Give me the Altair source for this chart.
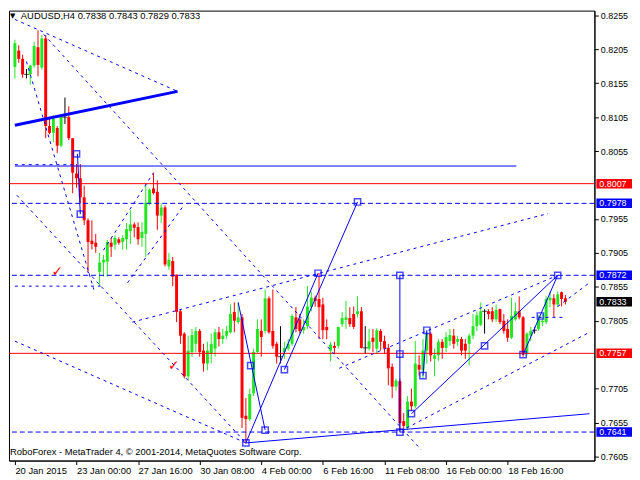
import altair as alt
import pandas as pd

# ---------------- candle data (AUDUSD H4) ----------------
opens = [0.8179,0.8203,0.8191,0.8168,0.8168,0.8181,0.8208,0.8178,0.8221,0.8092,
         0.8082,0.8089,0.8063,0.8105,0.8105,0.8074,0.8022,0.8015,0.7987,0.7953,
         0.7923,0.7920,0.7877,0.7891,0.7892,0.7920,0.7917,0.7925,0.7921,0.7925,
         0.7937,0.7947,0.7943,0.7927,0.7933,0.7978,0.8000,0.7995,0.7960,0.7972,
         0.7885,0.7893,0.7873,0.7819,0.7786,0.7723,0.7759,0.7771,0.7790,0.7761,
         0.7742,0.7756,0.7764,0.7788,0.7778,0.7783,0.7788,0.7818,0.7803,0.7810,
         0.7665,0.7660,0.7698,0.7759,0.7790,0.7790,0.7838,0.7790,0.7771,0.7752,
         0.7759,0.7764,0.7771,0.7810,0.7807,0.7791,0.7797,0.7825,0.7839,0.7837,
         0.7829,0.7796,0.7761,0.7768,0.7768,0.7800,0.7806,0.7809,0.7815,0.7815,
         0.7819,0.7765,0.7764,0.7780,0.7764,0.7790,0.7775,0.7765,0.7737,0.7708,
         0.7716,0.7657,0.7647,0.7686,0.7679,0.7740,0.7732,0.7761,0.7786,0.7749,
         0.7754,0.7774,0.7765,0.7775,0.7783,0.7774,0.7778,0.7771,0.7771,0.7783,
         0.7797,0.7799,0.7819,0.7819,0.7819,0.7807,0.7822,0.7805,0.7793,0.7780,
         0.7807,0.7819,0.7810,0.7756,0.7783,0.7791,0.7793,0.7803,0.7803,0.7835,
         0.7838,0.7829,0.7847,0.7838]
highs = [0.8219,0.8211,0.8197,0.8176,0.8182,0.8216,0.8233,0.8226,0.8226,0.8103,
         0.8108,0.8092,0.8109,0.8134,0.8121,0.8074,0.8036,0.8036,0.8004,0.7956,
         0.7953,0.7933,0.7905,0.7902,0.7924,0.7927,0.7931,0.7928,0.7931,0.7949,
         0.7968,0.7950,0.7950,0.7950,0.8007,0.8000,0.8023,0.8012,0.7978,0.7975,
         0.7905,0.7899,0.7873,0.7822,0.7788,0.7783,0.7793,0.7796,0.7793,0.7771,
         0.7774,0.7786,0.7793,0.7796,0.7793,0.7797,0.7829,0.7832,0.7832,0.7815,
         0.7691,0.7705,0.7764,0.7807,0.7807,0.7851,0.7841,0.7851,0.7774,0.7797,
         0.7774,0.7778,0.7815,0.7825,0.7815,0.7807,0.7856,0.7848,0.7842,0.7875,
         0.7839,0.7807,0.7774,0.7774,0.7796,0.7818,0.7834,0.7825,0.7826,0.7841,
         0.7825,0.7797,0.7793,0.7793,0.7794,0.7793,0.7783,0.7771,0.7742,0.7720,
         0.7720,0.7669,0.7694,0.7705,0.7775,0.7754,0.7778,0.7790,0.7788,0.7764,
         0.7778,0.7778,0.7788,0.7793,0.7793,0.7783,0.7781,0.7778,0.7786,0.7815,
         0.7819,0.7832,0.7822,0.7822,0.7825,0.7829,0.7823,0.7815,0.7807,0.7839,
         0.7832,0.7841,0.7812,0.7788,0.7796,0.7796,0.7813,0.7815,0.7841,0.7848,
         0.7844,0.7848,0.7848,0.7843]
lows = [0.8162,0.8185,0.8163,0.8162,0.8153,0.8178,0.8165,0.8175,0.8074,0.8080,
        0.8068,0.8052,0.8061,0.8095,0.8071,0.7993,0.8001,0.7978,0.7946,0.7876,
        0.7910,0.7905,0.7856,0.7870,0.7870,0.7899,0.7910,0.7917,0.7910,0.7910,
        0.7918,0.7928,0.7917,0.7914,0.7899,0.7975,0.7991,0.7939,0.7949,0.7885,
        0.7880,0.7856,0.7803,0.7771,0.7720,0.7717,0.7752,0.7759,0.7752,0.7730,
        0.7732,0.7742,0.7752,0.7767,0.7771,0.7778,0.7786,0.7788,0.7800,0.7647,
        0.7624,0.7657,0.7694,0.7756,0.7752,0.7786,0.7786,0.7764,0.7742,0.7742,
        0.7749,0.7761,0.7768,0.7788,0.7786,0.7786,0.7793,0.7819,0.7826,0.7778,
        0.7778,0.7778,0.7745,0.7756,0.7764,0.7796,0.7793,0.7796,0.7793,0.7810,
        0.7764,0.7756,0.7761,0.7759,0.7756,0.7761,0.7756,0.7710,0.7691,0.7702,
        0.7643,0.7640,0.7644,0.7672,0.7676,0.7724,0.7720,0.7742,0.7745,0.7723,
        0.7746,0.7749,0.7759,0.7768,0.7764,0.7768,0.7754,0.7749,0.7739,0.7778,
        0.7790,0.7797,0.7786,0.7807,0.7803,0.7803,0.7800,0.7786,0.7774,0.7778,
        0.7805,0.7807,0.7752,0.7754,0.7775,0.7786,0.7790,0.7797,0.7800,0.7825,
        0.7810,0.7825,0.7826,0.7829]
closes = [0.8214,0.8191,0.8168,0.8168,0.8181,0.8210,0.8182,0.8221,0.8092,0.8082,
          0.8103,0.8063,0.8106,0.8105,0.8074,0.8023,0.8015,0.7987,0.7953,0.7921,
          0.7918,0.7914,0.7891,0.7895,0.7921,0.7914,0.7927,0.7920,0.7927,0.7940,
          0.7947,0.7942,0.7925,0.7936,0.7979,0.7998,0.7993,0.7960,0.7972,0.7888,
          0.7895,0.7870,0.7818,0.7783,0.7723,0.7761,0.7784,0.7790,0.7759,0.7742,
          0.7761,0.7771,0.7788,0.7778,0.7783,0.7790,0.7815,0.7805,0.7810,0.7662,
          0.7660,0.7697,0.7759,0.7793,0.7781,0.7838,0.7788,0.7768,0.7752,0.7752,
          0.7765,0.7771,0.7812,0.7793,0.7790,0.7796,0.7826,0.7839,0.7834,0.7825,
          0.7791,0.7791,0.7770,0.7765,0.7796,0.7809,0.7810,0.7800,0.7796,0.7819,
          0.7765,0.7765,0.7775,0.7774,0.7791,0.7774,0.7764,0.7735,0.7708,0.7717,
          0.7654,0.7650,0.7686,0.7679,0.7742,0.7733,0.7761,0.7786,0.7754,0.7754,
          0.7774,0.7765,0.7781,0.7784,0.7771,0.7778,0.7761,0.7761,0.7783,0.7797,
          0.7813,0.7819,0.7819,0.7815,0.7807,0.7821,0.7803,0.7790,0.7780,0.7812,
          0.7819,0.7810,0.7755,0.7786,0.7790,0.7791,0.7807,0.7805,0.7837,0.7839,
          0.7829,0.7844,0.7837,0.7833]
bar_index = list(range(len(opens)))

# ---------------- axes ----------------
time_tick_index = [0, 16, 32, 48, 64, 80, 96, 112, 128]
time_tick_labels = ["20 Jan 2015", "23 Jan 00:00", "27 Jan 16:00", "30 Jan 08:00",
                    "4 Feb 00:00", "6 Feb 16:00", "11 Feb 08:00", "16 Feb 00:00",
                    "18 Feb 16:00"]
price_ticks = [0.8255, 0.8205, 0.8155, 0.8105, 0.8055, 0.7955, 0.7905,
               0.7855, 0.7805, 0.7705, 0.7655, 0.7605]

# ---------------- analysis objects ----------------
hline_price = [0.8007, 0.7757, 0.7978, 0.7872, 0.7641]
hline_style = ["red", "red", "blue", "blue", "blue"]

solid_i0 = [16.25, 58, 60, 70, 100, 60, 103, 132, 106, 0]
solid_p0 = [0.8051, 0.7832, 0.7625, 0.7733, 0.7872, 0.7625, 0.7668, 0.7755, 0.7724, 0.8033]
solid_i1 = [17, 65, 78.75, 89, 100, 149.25, 141, 141, 107, 130.25]
solid_p1 = [0.7962, 0.7644, 0.7875, 0.7980, 0.7641, 0.7668, 0.7872, 0.7872, 0.7791, 0.8033]

thick_i0 = [0]
thick_p0 = [0.8093]
thick_i1 = [42.25]
thick_p1 = [0.8143]

dash_i0 = [0, 7.5, 0.5, 0, 30.5, 0, 0, 84.25, 101.75, 23, 29.25, 3, 134.25, 141]
dash_p0 = [0.8249, 0.8227, 0.7990, 0.7775, 0.7803, 0.8035, 0.7856, 0.7735, 0.7647,
           0.7909, 0.7861, 0.8187, 0.7810, 0.7826]
dash_i1 = [42.25, 105.5, 60, 60, 138.5, 15, 22.25, 141, 149.25, 36, 43.5, 20.5, 143, 149.25]
dash_p1 = [0.8143, 0.7615, 0.7625, 0.7625, 0.7963, 0.8035, 0.7856, 0.7872, 0.7788,
           0.8023, 0.7972, 0.7851, 0.7810, 0.7861]

square_i = [16, 17, 61.25, 65, 60, 78.75, 70, 89, 100, 100, 100, 103, 106, 107,
            122, 132, 136.5, 141]
square_p = [0.8051, 0.7962, 0.7739, 0.7644, 0.7625, 0.7875, 0.7733, 0.7980, 0.7872,
            0.7756, 0.7641, 0.7668, 0.7724, 0.7791, 0.7768, 0.7755, 0.7812, 0.7872]

check_i = [11, 41.25]
check_p = [0.7877, 0.7739]

tag_price = [0.8007, 0.7978, 0.7872, 0.7833, 0.7757, 0.7641]
tag_color = ["#ff0000", "#0000ff", "#0000ff", "#000000", "#ff0000", "#0000ff"]

header = "AUDUSD,H4  0.7838 0.7843 0.7829 0.7833"
footer = "RoboForex - MetaTrader 4, \u00a9 2001-2014, MetaQuotes Software Corp."

GREEN = "#22e622"
RED = "#ff0000"
BLUE = "#0000ff"
FONT = "Liberation Sans"
FS = 9

# ---------------- frames ----------------
df = pd.DataFrame({"i": bar_index, "o": opens, "h": highs, "l": lows, "c": closes})
df["kind"] = ["up" if c > o else ("down" if c < o else "doji") for o, c in zip(opens, closes)]

hl = pd.DataFrame({"p": hline_price, "col": hline_style})
solid = pd.DataFrame({"i0": solid_i0, "p0": solid_p0, "i1": solid_i1, "p1": solid_p1})
thick = pd.DataFrame({"i0": thick_i0, "p0": thick_p0, "i1": thick_i1, "p1": thick_p1})
dash = pd.DataFrame({"i0": dash_i0, "p0": dash_p0, "i1": dash_i1, "p1": dash_p1})
sq = pd.DataFrame({"i": square_i, "p": square_p})
chk = pd.DataFrame({"i": check_i, "p": check_p})
tags = pd.DataFrame({"p": tag_price, "col": tag_color,
                     "label": [f"{v:.4f}" for v in tag_price]})

XS = alt.Scale(domain=[-0.25, 149.25], nice=False, zero=False)
YS = alt.Scale(domain=[0.7599, 0.8262], nice=False, zero=False)

label_js = "[" + ",".join("'" + s + "'" for s in time_tick_labels) + "][round(datum.value/16)]"
xaxis = alt.Axis(values=time_tick_index, labelExpr=label_js, title=None, grid=False,
                 tickSize=4, labelAlign="left", labelPadding=1, labelFlush=False,
                 labelOverlap=False, domainColor="black", tickColor="black",
                 labelColor="black", labelFont=FONT, labelFontSize=9.5)
yaxis = alt.Axis(orient="right", values=price_ticks, format=".4f", title=None, grid=False,
                 tickSize=4, labelPadding=2, labelAlign="left", labelOverlap=False,
                 domainColor="black", tickColor="black", labelColor="black",
                 labelFont=FONT, labelFontSize=FS, labelFlush=False)


def X(f):
    return alt.X(f, type="quantitative", scale=XS, axis=xaxis)


def Y(f):
    return alt.Y(f, type="quantitative", scale=YS, axis=yaxis)


kind_color = alt.Color("kind:N", scale=alt.Scale(domain=["up", "down", "doji"],
                                                  range=[GREEN, RED, "black"]), legend=None)

wicks = alt.Chart(df).mark_rule(strokeWidth=1).encode(
    x=X("i"), y=Y("l"), y2="h", color=kind_color)
bodies = alt.Chart(df).transform_filter("datum.kind != 'doji'").mark_bar(
    size=3, orient="vertical").encode(x=X("i"), y=Y("o"), y2="c", color=kind_color)
dojis = alt.Chart(df).transform_filter("datum.kind == 'doji'").mark_tick(
    orient="horizontal", size=5, thickness=1, color="black").encode(x=X("i"), y=Y("c"))

hlines_red = alt.Chart(hl).transform_filter("datum.col == 'red'").mark_rule(
    color=RED, strokeWidth=1).encode(y=Y("p"))
hlines_blue = alt.Chart(hl).transform_filter("datum.col == 'blue'").mark_rule(
    color=BLUE, strokeWidth=1, strokeDash=[5, 3]).encode(y=Y("p"))

solid_lines = alt.Chart(solid).mark_rule(color=BLUE, strokeWidth=1).encode(
    x=X("i0"), y=Y("p0"), x2="i1", y2="p1")
thick_lines = alt.Chart(thick).mark_rule(color=BLUE, strokeWidth=3).encode(
    x=X("i0"), y=Y("p0"), x2="i1", y2="p1")
dash_lines = alt.Chart(dash).mark_rule(color=BLUE, strokeWidth=1, strokeDash=[3, 4]).encode(
    x=X("i0"), y=Y("p0"), x2="i1", y2="p1")

squares = alt.Chart(sq).mark_point(shape="square", filled=False, size=40, color=BLUE,
                                   strokeWidth=1.5).encode(x=X("i"), y=Y("p"))
checks = alt.Chart(chk).mark_text(text="\u2713", font="DejaVu Sans", fontSize=14,
                                  color=RED).encode(x=X("i"), y=Y("p"))

tag_rects = alt.Chart(tags).transform_calculate(
    top="datum.p + 0.0007", bot="datum.p - 0.0007").mark_rect().encode(
    x=alt.value(594), x2=alt.value(630), y=Y("top"), y2="bot",
    color=alt.Color("col:N", scale=None))
tag_text = alt.Chart(tags).mark_text(align="left", baseline="middle", color="white",
                                     font=FONT, fontSize=FS).encode(
    x=alt.value(597), y=Y("p"), text="label:N")

head_df = pd.DataFrame({"t": [header]})
foot_df = pd.DataFrame({"t": [footer]})
tri = alt.Chart(head_df).mark_text(text="\u25bc", align="left", baseline="middle",
                                   font="DejaVu Sans", fontSize=7, color="black").encode(
    x=alt.value(1), y=alt.value(5))
head = alt.Chart(head_df).mark_text(align="left", baseline="middle", font=FONT, fontSize=9.5,
                                    color="black").encode(
    x=alt.value(12), y=alt.value(5), text="t:N")
foot = alt.Chart(foot_df).mark_text(align="left", baseline="middle", font=FONT,
                                    fontSize=9.5, color="black").encode(
    x=alt.value(1), y=alt.value(446), text="t:N")

chart = alt.layer(
    wicks, bodies, dojis, hlines_red, hlines_blue, solid_lines, thick_lines, dash_lines,
    squares, checks, tag_rects, tag_text, tri, head, foot
).properties(width=592, height=455, background="white",
             padding={"left": 0, "top": 0, "right": 0, "bottom": 0}).configure_view(
    stroke="black", strokeWidth=1)

chart.save("out.html", embed_options={"renderer": "svg", "actions": False})
